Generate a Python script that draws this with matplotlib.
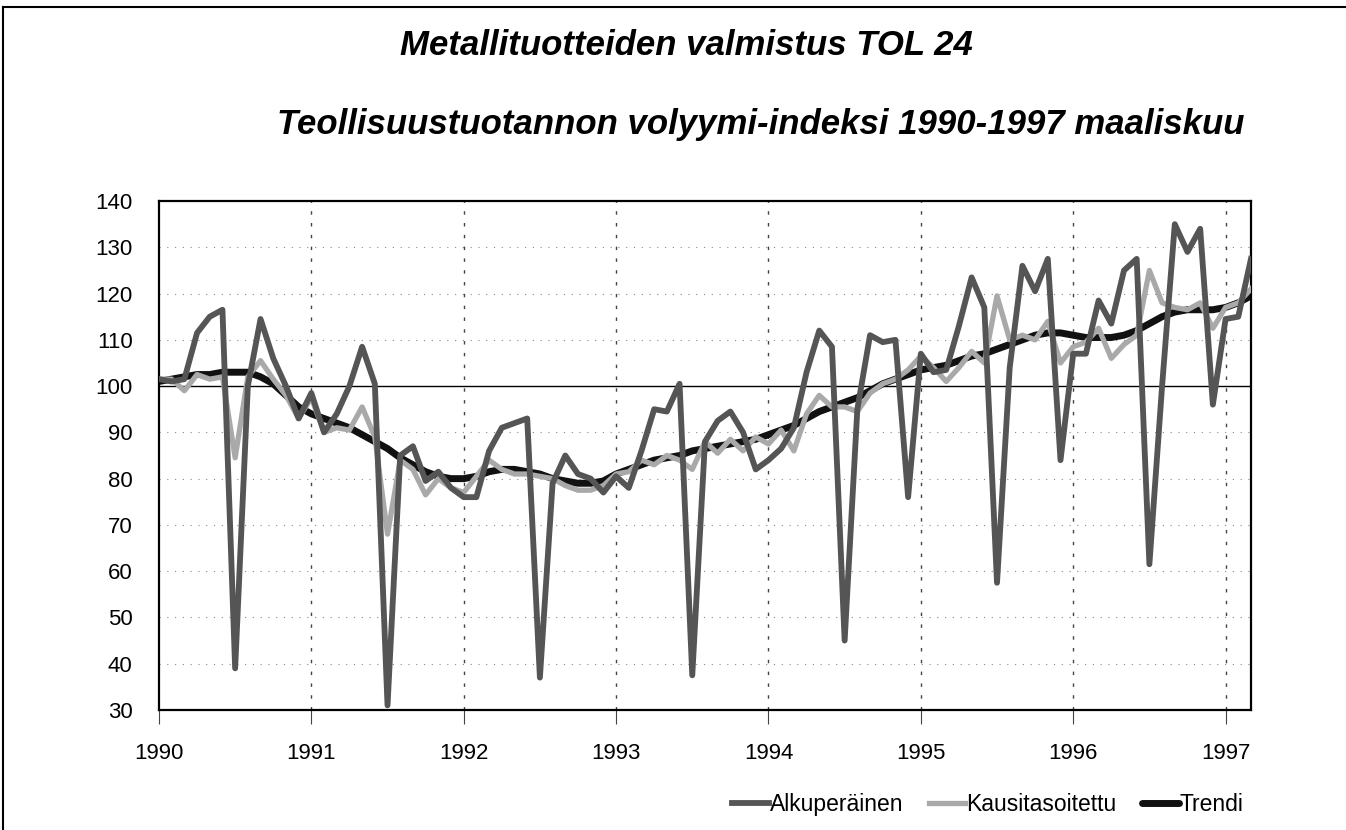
import numpy as np
import matplotlib
matplotlib.use("Agg")
import matplotlib.pyplot as plt
from matplotlib.lines import Line2D

# Data: monthly index 1990 Jan .. 1997 Mar
start_year = 1990
alkuperainen = [
    101.5, 101, 101.5, 111.5, 115, 116.5, 39, 100, 114.5, 106, 100, 93,      # 1990
    98.5, 90, 94, 100, 108.5, 100.5, 31, 85, 87, 79.5, 81.5, 78,            # 1991
    76, 76, 86, 91, 92, 93, 37, 79, 85, 81, 80, 77,                          # 1992
    80.5, 78, 86, 95, 94.5, 100.5, 37.5, 88, 92.5, 94.5, 90, 82,            # 1993
    84, 86.5, 91, 103, 112, 108.5, 45, 95, 111, 109.5, 110, 76,             # 1994
    107, 103, 103.5, 113, 123.5, 117, 57.5, 104, 126, 120.5, 127.5, 84,     # 1995
    107, 107, 118.5, 113.5, 125, 127.5, 61.5, 100, 135, 129, 134, 96,       # 1996
    114.5, 115, 127.5,                                                       # 1997
]
kausitasoitettu = [
    101.5, 101.5, 99, 102.5, 101.5, 102, 84.5, 102, 105.5, 101.5, 98, 93,
    97.5, 90, 91, 90.5, 95.5, 89, 68, 84, 82, 76.5, 80, 78,
    77, 80.5, 84, 82, 81, 81, 80.5, 80, 78.5, 77.5, 77.5, 78.5,
    81, 81.5, 84, 83, 85, 84, 82, 88, 85.5, 88.5, 86, 89,
    87.5, 90.5, 86, 94, 98, 95.5, 95.5, 94.5, 98.5, 100.5, 101.5, 103.5,
    106.5, 104, 101, 104, 107.5, 105, 119.5, 110, 111, 110, 114, 105,
    108.5, 109.5, 112.5, 106, 109, 111, 125, 118, 117, 116.5, 118, 112.5,
    117, 118, 121,
]
trendi = [
    101, 101.5, 102, 102.5, 102.5, 103, 103, 103, 102, 100.5, 98, 95.5,
    94, 93, 92, 91, 89.5, 88, 86.5, 84.5, 83, 81.5, 80.5, 80,
    80, 80.5, 81.5, 82, 82, 81.5, 81, 80, 79.5, 79, 79, 79.5,
    81, 82, 83, 84, 84.5, 85, 86, 86.5, 87, 87.5, 88, 88.5,
    89.5, 90.5, 91.5, 93, 94.5, 95.5, 96.5, 97.5, 99, 100.5, 101.5, 102.5,
    103.5, 104, 104.5, 105.5, 106.5, 107, 108, 109, 110, 111, 111.5, 111.5,
    111, 110.5, 110.5, 110.5, 111, 112, 113.5, 115, 116, 116.5, 116.5, 116.5,
    117, 118, 119.5,
]
years = list(range(1990, 1998))
yticks = list(range(30, 141, 10))

x = start_year + np.arange(len(alkuperainen)) / 12.0

plt.rcParams['font.family'] = ['Liberation Sans', 'DejaVu Sans']

fig = plt.figure(figsize=(13.46, 8.30), dpi=100)
ax = fig.add_axes([0.1181, 0.1446, 0.8113, 0.6132])

# grid: dotted horizontals, solid line at 100, dashed year lines
for v in yticks[1:-1]:
    if v == 100:
        ax.axhline(v, color='black', lw=1.0, zorder=1)
    else:
        ax.axhline(v, color='#888888', lw=0.8, ls=(0, (1, 6)), zorder=1)
for yr in years[1:]:
    ax.axvline(yr, color='#444444', lw=1.0, ls=(0, (2.5, 6)), zorder=1)

ax.plot(x, trendi, color='#111111', lw=5.0, zorder=2, label='Trendi',
        solid_capstyle='round')
ax.plot(x, kausitasoitettu, color='#a9a9a9', lw=3.8, zorder=3,
        label='Kausitasoitettu')
ax.plot(x, alkuperainen, color='#555555', lw=4.2, zorder=4,
        label='Alkuperäinen')

ax.set_xlim(start_year, x[-1])
ax.set_ylim(30, 140)
ax.set_yticks(yticks)
ax.set_xticks(years)
ax.tick_params(axis='y', length=0, pad=19, labelsize=16)
ax.tick_params(axis='x', length=10, direction='out', color='#444444',
               pad=14, labelsize=16)
for s in ax.spines.values():
    s.set_linewidth(1.6)
    s.set_color('black')

h, l = ax.get_legend_handles_labels()
order = [2, 1, 0]
fig.legend([h[i] for i in order], [l[i] for i in order], loc='center',
           bbox_to_anchor=(0.734, 0.031), ncol=3, frameon=False,
           fontsize=16.5, handlelength=1.6, handletextpad=0.05,
           columnspacing=1.1)

fig.text(0.51, 0.945, 'Metallituotteiden valmistus TOL 24', ha='center',
         va='center', fontsize=25, fontweight='bold', fontstyle='italic')
fig.text(0.565, 0.850, 'Teollisuustuotannon volyymi-indeksi 1990-1997 maaliskuu',
         ha='center', va='center', fontsize=25, fontweight='bold',
         fontstyle='italic')

# outer frame (left and top edges)
fig.add_artist(Line2D([0.002, 0.002], [0, 0.992], color='black', lw=1.5,
                      transform=fig.transFigure))
fig.add_artist(Line2D([0.002, 1.0], [0.992, 0.992], color='black', lw=1.5,
                      transform=fig.transFigure))

fig.savefig('out.png', dpi=100)
